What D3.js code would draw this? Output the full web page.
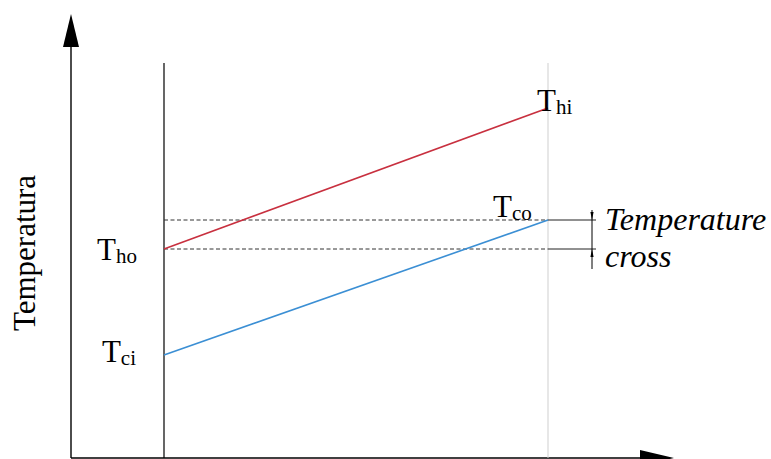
<!DOCTYPE html>
<html><head><meta charset="utf-8">
<script src="https://cdn.jsdelivr.net/npm/d3@7"></script>
<style>html,body{margin:0;padding:0;background:#fff;}svg{display:block;}</style>
</head><body>
<svg id="c" width="771" height="459"></svg>
<script>
// position along exchanger (0 = left end, 1 = right end)
const positions = [0, 1];
// temperature values (arbitrary units)
const hotStream = [52.25, 87.5];   // Tho -> Thi
const coldStream = [25.75, 59.5];  // Tci -> Tco
const crossLevels = [59.5, 52.25]; // Tco, Tho
const labelKeys = ["hi", "co", "ho", "ci"];
const labelSubs = ["hi", "co", "ho", "ci"];
const yTitle = "Temperatura";
const crossText = ["Temperature", "cross"];

const svg = d3.select("#c");
const x = d3.scaleLinear().domain([0, 1]).range([164, 548]);
const y = d3.scaleLinear().domain([0, 100]).range([458, 58]);
const originX = 71, baseY = 458;
const FONT = "Liberation Serif";

// axes (plain lines with arrowheads)
svg.append("line").attr("x1", originX).attr("x2", originX).attr("y1", baseY).attr("y2", 40)
  .attr("stroke", "#000").attr("stroke-width", 1.4);
svg.append("path").attr("d", `M${originX-8},47 L${originX},14 L${originX+8},47 Z`).attr("fill", "#000");
svg.append("line").attr("x1", originX).attr("x2", 645).attr("y1", baseY).attr("y2", baseY)
  .attr("stroke", "#000").attr("stroke-width", 1.4);
svg.append("path").attr("d", `M640,${baseY-8} L674,${baseY} L640,${baseY+8} Z`).attr("fill", "#000");

// vertical boundaries
svg.append("line").attr("x1", x(0)).attr("x2", x(0)).attr("y1", 63).attr("y2", baseY)
  .attr("stroke", "#000").attr("stroke-width", 1.2);
svg.append("line").attr("x1", x(1)).attr("x2", x(1)).attr("y1", 63).attr("y2", baseY)
  .attr("stroke", "#cfcfcf").attr("stroke-width", 1);

// dashed reference lines + solid extensions
crossLevels.forEach(v => {
  svg.append("line").attr("x1", x(0)).attr("x2", x(1)).attr("y1", y(v)).attr("y2", y(v))
    .attr("stroke", "#333").attr("stroke-width", 1).attr("stroke-dasharray", "4,2.5");
  svg.append("line").attr("x1", x(1)).attr("x2", 596).attr("y1", y(v)).attr("y2", y(v))
    .attr("stroke", "#222").attr("stroke-width", 1);
});

// dimension marker
const dx = 592;
const yTop = y(crossLevels[0]), yBot = y(crossLevels[1]);
svg.append("line").attr("x1", dx).attr("x2", dx).attr("y1", yTop - 10).attr("y2", yBot + 20)
  .attr("stroke", "#000").attr("stroke-width", 1);
svg.append("path").attr("d", `M${dx-1.6},${yTop-8} L${dx},${yTop} L${dx+1.6},${yTop-8} Z`).attr("fill", "#000");
svg.append("path").attr("d", `M${dx-1.6},${yBot+8} L${dx},${yBot} L${dx+1.6},${yBot+8} Z`).attr("fill", "#000");

// stream lines
const line = d3.line().x(d => x(d[0])).y(d => y(d[1]));
svg.append("path").datum(d3.zip(positions, hotStream)).attr("d", line)
  .attr("fill", "none").attr("stroke", "#c8303f").attr("stroke-width", 1.6);
svg.append("path").datum(d3.zip(positions, coldStream)).attr("d", line)
  .attr("fill", "none").attr("stroke", "#3b8fd4").attr("stroke-width", 1.6);

// point labels
const lp = {
  hi: [537, y(hotStream[1]) + 3, "start"],
  co: [493, y(coldStream[1]) - 3, "start"],
  ho: [137, y(hotStream[0]) + 11, "end"],
  ci: [136, y(coldStream[0]) + 7, "end"]
};
labelKeys.forEach((k, i) => {
  const [xp, yp, anchor] = lp[k];
  const t = svg.append("text").attr("x", xp).attr("y", yp).attr("text-anchor", anchor)
    .style("font-family", FONT).attr("font-size", 31).attr("fill", "#000");
  t.append("tspan").text("T");
  t.append("tspan").attr("font-size", 21).attr("dy", 3).text(labelSubs[i]);
});

// y title
svg.append("text").attr("transform", "translate(35,253) rotate(-90)").attr("text-anchor", "middle")
  .style("font-family", FONT).attr("font-size", 31).text(yTitle);

// temperature cross text
crossText.forEach((s, i) => {
  svg.append("text").attr("x", 605).attr("y", 230 + i * 37)
    .style("font-family", FONT).style("font-style", "italic").attr("font-size", 32).text(s);
});
</script>
</body></html>
